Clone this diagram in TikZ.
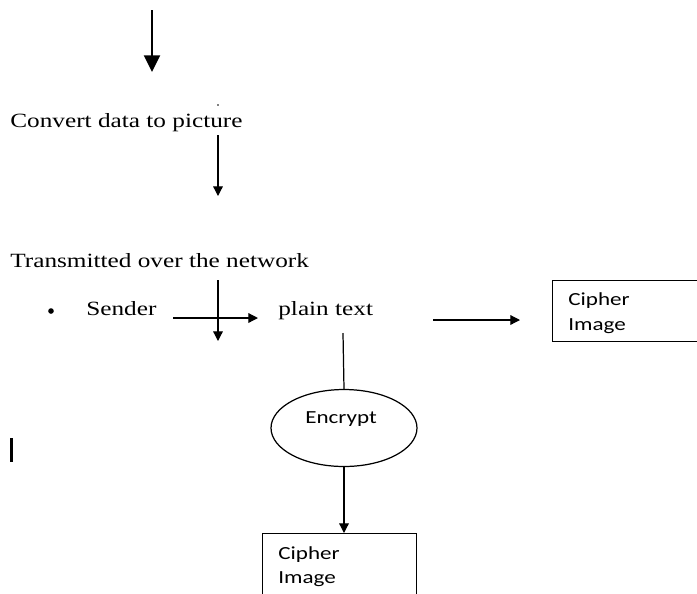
\documentclass[tikz,border=0pt]{standalone}
\usepackage{fontspec}
\setmainfont[FakeStretch=1.25]{Liberation Serif}
\newfontfamily\boxfont[FakeStretch=1.25]{Carlito}
\usetikzlibrary{arrows.meta,shapes.geometric}

\begin{document}
\begin{tikzpicture}[x=0.02cm,y=-0.02cm,
    lbl/.style={anchor=base west,inner sep=0pt,font=\fontsize{11.5}{14}\selectfont},
    boxlbl/.style={anchor=base west,inner sep=0pt,font=\boxfont\fontsize{10.5}{13}\selectfont},
    cipherbox/.style={draw,line width=0.7pt,rectangle,anchor=north west,inner sep=0pt},
    arr/.style={line width=0.7pt,-{Triangle[length=5.5pt,width=5.5pt]}}]
      \useasboundingbox (0,0) rectangle (697,593);
      \clip (0,0) rectangle (697,593);
      % texts
      \node[lbl] (convert) at (10,127) {Convert data to picture};
      \node[lbl] (transmit) at (10,267) {Transmitted over the network};
      \node[circle,fill,inner sep=0pt,minimum size=3.2pt] (bullet) at (51,311) {};
      \node[lbl] (sender) at (86,315) {Sender};
      \node[lbl] (plain) at (278,315) {plain text};
      % boxes and ellipse
      \node[cipherbox,minimum width=3.6cm,minimum height=1.22cm] (cipherA) at (552,280) {};
      \node[boxlbl] (cipherAtop) at (568,305) {Cipher};
      \node[boxlbl] (cipherAbot) at (568,330) {Image};
      \node[draw,ellipse,line width=0.7pt,inner sep=0pt,minimum width=2.92cm,minimum height=1.54cm] (encrypt) at (344,428) {};
      \node[boxlbl] (encrypttxt) at (305,423) {Encrypt};
      \node[cipherbox,minimum width=3.08cm,minimum height=1.8cm] (cipherB) at (262,533) {};
      \node[boxlbl] (cipherBtop) at (278,559) {Cipher};
      \node[boxlbl] (cipherBbot) at (278,583) {Image};
      % free ends
      \coordinate (topA) at (152,10);
      \coordinate (topB) at (152,72);
      \coordinate (convA) at (218,135);
      \coordinate (convB) at (218,196);
      \coordinate (crossA) at (218,280);
      \coordinate (crossB) at (218,341);
      \coordinate (sendA) at (173,318);
      \coordinate (sendB) at (258,318);
      \coordinate (plainA) at (433,320);
      \coordinate (plainB) at (520,320);
      \coordinate (plainC) at (343,333);
      % marks
      \fill (218,105) circle (0.8);
      \fill (10,438) rectangle (13,462);
      \draw[line width=1.5pt,-{Triangle[length=9.5pt,width=9pt]}] (topA) to (topB);
      \begin{scope}[arr]
        \draw (convA) to (convB);
        \draw (crossA) to (crossB);
        \draw (sendA) to (sendB);
        \draw (plainA) to (plainB);
        \draw (encrypt.south) to (encrypt.south |- cipherB.north);
      \end{scope}
      \draw[line width=0.7pt] (plainC) to (encrypt.north);
    \end{tikzpicture}
\end{document}
